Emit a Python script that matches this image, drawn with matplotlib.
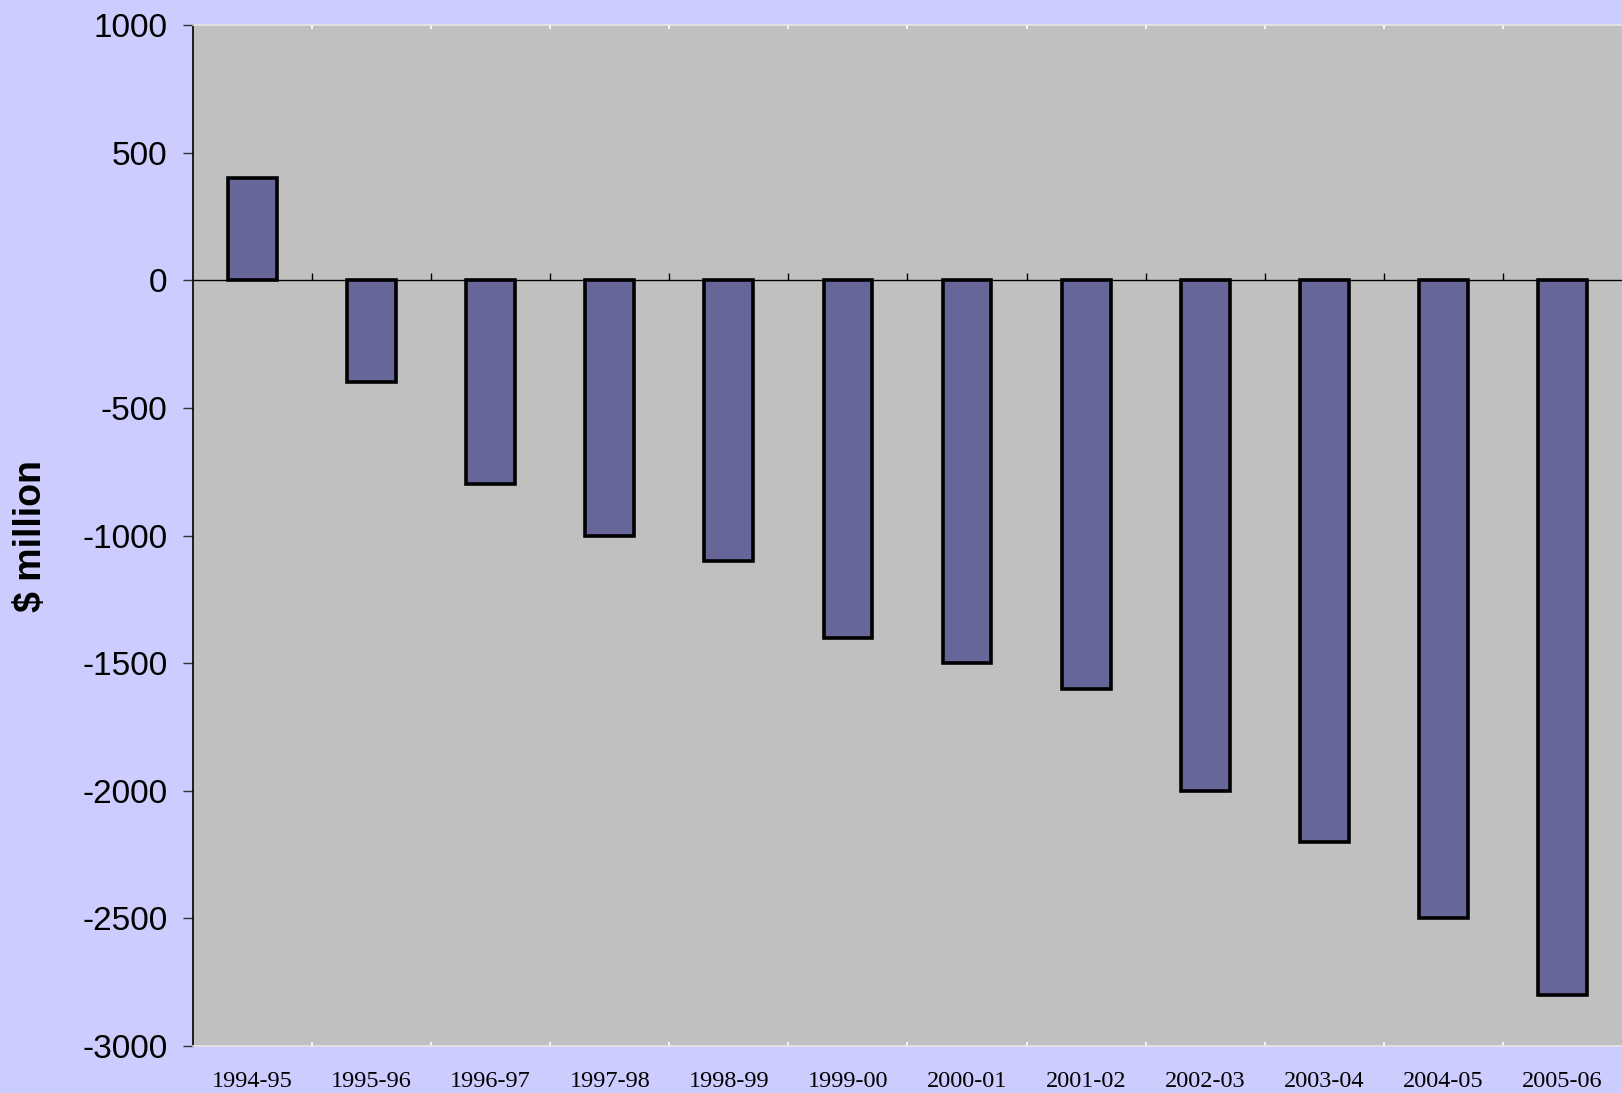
import numpy as np
import matplotlib
matplotlib.use("Agg")
import matplotlib.pyplot as plt

years = ["1994-95", "1995-96", "1996-97", "1997-98", "1998-99", "1999-00",
         "2000-01", "2001-02", "2002-03", "2003-04", "2004-05", "2005-06"]
balance = [400, -400, -800, -1000, -1100, -1400, -1500, -1600, -2000, -2200,
           -2500, -2800]
yticks = [1000, 500, 0, -500, -1000, -1500, -2000, -2500, -3000]

BG = "#CCCCFF"
PLOT = "#C0C0C0"
BAR = "#666699"

fig = plt.figure(figsize=(16.22, 10.93), dpi=100, facecolor=BG)
ax = fig.add_axes([193 / 1622, 1 - 1046 / 1093, 1 - 193 / 1622, (1046 - 25) / 1093])
ax.set_facecolor(PLOT)

x = np.arange(len(years))
ax.bar(x, balance, width=0.41, color=BAR, edgecolor="black", linewidth=2.6, zorder=3)
ax.axhline(0, color="black", linewidth=0.9, zorder=2)

ymin, ymax = -3000, 1000
ax.set_ylim(ymin, ymax)
ax.set_xlim(-0.5, len(years) - 0.5)

# y axis
ax.set_yticks(yticks)
ax.set_yticklabels([str(v) for v in yticks], family="Liberation Sans", fontsize=24)
ax.tick_params(axis="y", direction="out", length=7.5, width=1.0, color="#333333", pad=11)
ax.spines["left"].set_color("black")
ax.spines["left"].set_linewidth(1.2)
ax.spines["right"].set_visible(False)
for s in ("top", "bottom"):
    ax.spines[s].set_color("#E6E6E6")
    ax.spines[s].set_linestyle((0, (1, 1)))
    ax.spines[s].set_linewidth(1.2)

# category labels at the bottom, white boundary ticks on top/bottom edges
bounds = np.arange(len(years) + 1) - 0.5
ax.set_xticks(x)
ax.set_xticklabels(years, family="Liberation Serif", fontsize=17.5)
ax.tick_params(axis="x", which="major", length=0, pad=18)
ax.set_xticks(bounds[1:-1], minor=True)
ax.tick_params(axis="x", which="minor", direction="in", length=3, width=1.2,
               color="white", top=True, bottom=True)

# boundary ticks hanging from the zero line
zero_frac = (0 - ymin) / (ymax - ymin)
sec = ax.secondary_xaxis(zero_frac)
sec.set_xticks(bounds[1:-1])
sec.set_xticklabels([])
sec.tick_params(direction="out", length=5, width=1.0, color="black")
sec.spines["bottom"].set_visible(False)

fig.text(31 / 1622, 1 - 536 / 1093, "$ million", rotation=90, ha="center", va="center",
         family="Liberation Sans", fontweight="bold", fontsize=27)

fig.savefig("out.png", dpi=100, facecolor=BG)
